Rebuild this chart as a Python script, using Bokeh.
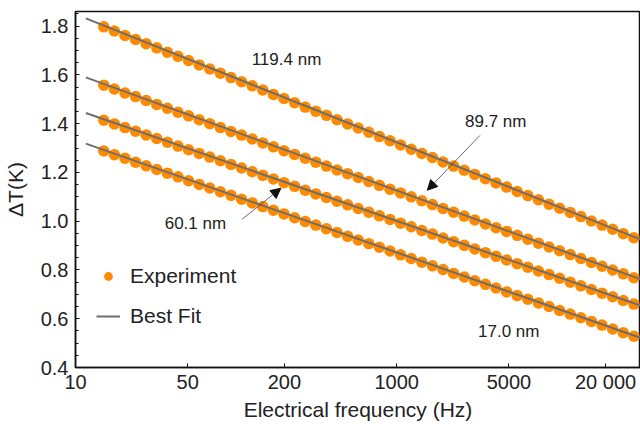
from bokeh.plotting import figure
from bokeh.models import (FixedTicker, Label, Arrow, NormalHead, Legend,
                          LegendItem, PrintfTickFormatter)
from bokeh.embed import file_html
from bokeh.resources import INLINE

# ---------------- data ----------------
freq = [15.0, 17.46, 20.33, 23.67, 27.55, 32.08, 37.35, 43.47, 50.61, 58.93,
        68.60, 79.86, 92.97, 108.2, 126.0, 146.7, 170.8, 198.8, 231.5, 269.5,
        313.7, 365.2, 425.2, 495.0, 576.2, 670.8, 780.9, 909.1, 1058, 1232,
        1435, 1670, 1944, 2263, 2635, 3067, 3571, 4157, 4839, 5634,
        6559, 7636, 8889, 10350, 12050, 14030, 16330, 19010, 22130, 25770, 30000]

dT_119 = [1.797, 1.780, 1.762, 1.745, 1.728, 1.711, 1.693, 1.676, 1.659, 1.641,
          1.624, 1.607, 1.589, 1.572, 1.555, 1.538, 1.520, 1.503, 1.486, 1.468,
          1.451, 1.434, 1.416, 1.399, 1.382, 1.365, 1.347, 1.330, 1.313, 1.295,
          1.278, 1.261, 1.243, 1.226, 1.209, 1.192, 1.174, 1.157, 1.140, 1.122,
          1.105, 1.088, 1.070, 1.053, 1.036, 1.019, 1.001, 0.984, 0.967, 0.949, 0.932]
dT_90 = [1.558, 1.542, 1.526, 1.511, 1.495, 1.479, 1.463, 1.447, 1.432, 1.416,
         1.400, 1.384, 1.368, 1.353, 1.337, 1.321, 1.305, 1.289, 1.274, 1.258,
         1.242, 1.226, 1.210, 1.195, 1.179, 1.163, 1.147, 1.131, 1.116, 1.100,
         1.084, 1.068, 1.052, 1.037, 1.021, 1.005, 0.989, 0.973, 0.958, 0.942,
         0.926, 0.910, 0.894, 0.879, 0.863, 0.847, 0.831, 0.815, 0.800, 0.784, 0.768]
dT_60 = [1.414, 1.399, 1.384, 1.369, 1.354, 1.339, 1.324, 1.308, 1.293, 1.278,
         1.263, 1.248, 1.233, 1.218, 1.203, 1.188, 1.173, 1.158, 1.143, 1.127,
         1.112, 1.097, 1.082, 1.067, 1.052, 1.037, 1.022, 1.007, 0.992, 0.977,
         0.962, 0.947, 0.931, 0.916, 0.901, 0.886, 0.871, 0.856, 0.841, 0.826,
         0.811, 0.796, 0.781, 0.766, 0.750, 0.735, 0.720, 0.705, 0.690, 0.675, 0.660]
dT_17 = [1.288, 1.273, 1.258, 1.242, 1.227, 1.212, 1.197, 1.182, 1.166, 1.151,
         1.136, 1.121, 1.106, 1.090, 1.075, 1.060, 1.045, 1.030, 1.014, 0.999,
         0.984, 0.969, 0.954, 0.938, 0.923, 0.908, 0.893, 0.878, 0.862, 0.847,
         0.832, 0.817, 0.802, 0.786, 0.771, 0.756, 0.741, 0.726, 0.710, 0.695,
         0.680, 0.665, 0.650, 0.634, 0.619, 0.604, 0.589, 0.574, 0.558, 0.543, 0.528]

fit_freq = [11.6, 33000]
fit_119 = [1.832, 0.925]
fit_90 = [1.590, 0.762]
fit_60 = [1.444, 0.654]
fit_17 = [1.318, 0.522]

series = [dT_119, dT_90, dT_60, dT_17]
fits = [fit_119, fit_90, fit_60, fit_17]

x_ticks = [10, 50, 200, 1000, 5000, 20000]
x_tick_labels = ["10", "50", "200", "1000", "5000", "20 000"]
y_ticks = [0.4, 0.6, 0.8, 1.0, 1.2, 1.4, 1.6, 1.8]
y_minor = [0.45, 0.5, 0.55, 0.65, 0.7, 0.75, 0.85, 0.9, 0.95, 1.05, 1.1, 1.15,
           1.25, 1.3, 1.35, 1.45, 1.5, 1.55, 1.65, 1.7, 1.75, 1.85]

ORANGE = "#ff8a00"
GRAY = "#6e6e6e"
FONT = "Liberation Sans"
TXT = "#222222"

p = figure(width=640, height=427, x_axis_type="log", x_range=(10, 33000),
           y_range=(0.4, 1.86), output_backend="svg", toolbar_location=None,
           min_border_left=70, min_border_right=0, min_border_top=11,
           min_border_bottom=60)
p.grid.visible = False
p.outline_line_color = "#111111"
p.outline_line_width = 1.5
p.background_fill_color = "white"

dots = []
lines = []
for ys in series:
    dots.append(p.scatter(freq, ys, size=11.5, fill_color=ORANGE, line_color=None))
for fy in fits:
    lines.append(p.line(fit_freq, fy, line_color=GRAY, line_width=2))

# axes
xa = p.xaxis[0]
xa.ticker = FixedTicker(ticks=x_ticks)
xa.major_label_overrides = {t: l for t, l in zip(x_ticks, x_tick_labels)}
xa.axis_label = "Electrical frequency (Hz)"
ya = p.yaxis[0]
ya.ticker = FixedTicker(ticks=y_ticks, minor_ticks=y_minor)
ya.formatter = PrintfTickFormatter(format="%.1f")
ya.axis_label = "ΔT(K)"

for ax in (xa, ya):
    ax.axis_line_color = "#111111"
    ax.axis_line_width = 1.5
    ax.major_tick_in = 4
    ax.major_tick_out = 0
    ax.minor_tick_in = 3
    ax.minor_tick_out = 0
    ax.major_tick_line_color = "#111111"
    ax.minor_tick_line_color = "#111111"
    ax.major_label_text_font = FONT
    ax.major_label_text_font_size = "20px"
    ax.major_label_text_color = TXT
    ax.axis_label_text_font = FONT
    ax.axis_label_text_font_size = "21px"
    ax.axis_label_text_font_style = "normal"
    ax.axis_label_text_color = TXT
xa.minor_tick_line_color = None
xa.major_label_standoff = 3
xa.axis_label_standoff = 2
ya.major_label_standoff = 7
ya.axis_label_standoff = 11

# legend
legend = Legend(items=[LegendItem(label="Experiment", renderers=[dots[0]]),
                       LegendItem(label="Best Fit", renderers=[lines[0]])],
                location=(21, 39), border_line_color=None,
                background_fill_alpha=0, label_text_font=FONT,
                label_text_font_size="21px", label_text_color=TXT,
                glyph_width=24, glyph_height=22, spacing=16,
                label_standoff=10, padding=0, margin=0)
p.add_layout(legend)

# annotations
labels = [("119.4 nm", 206, 1.664), ("89.7 nm", 4140, 1.410),
          ("60.1 nm", 55.8, 0.991), ("17.0 nm", 4990, 0.548)]
for t, x, y in labels:
    p.add_layout(Label(x=x, y=y, text=t, text_align="center",
                       text_baseline="middle", text_font=FONT,
                       text_font_size="17px", text_color=TXT))

arrows = [(3304, 1.352, 1552, 1.127), (109, 1.008, 190, 1.135)]
for x0, y0, x1, y1 in arrows:
    p.add_layout(Arrow(end=NormalHead(size=10, fill_color="#111111",
                                      line_color="#111111"),
                       x_start=x0, y_start=y0, x_end=x1, y_end=y1,
                       line_color="#444444", line_width=0.8))

open("out.html", "w").write(file_html(p, INLINE))
